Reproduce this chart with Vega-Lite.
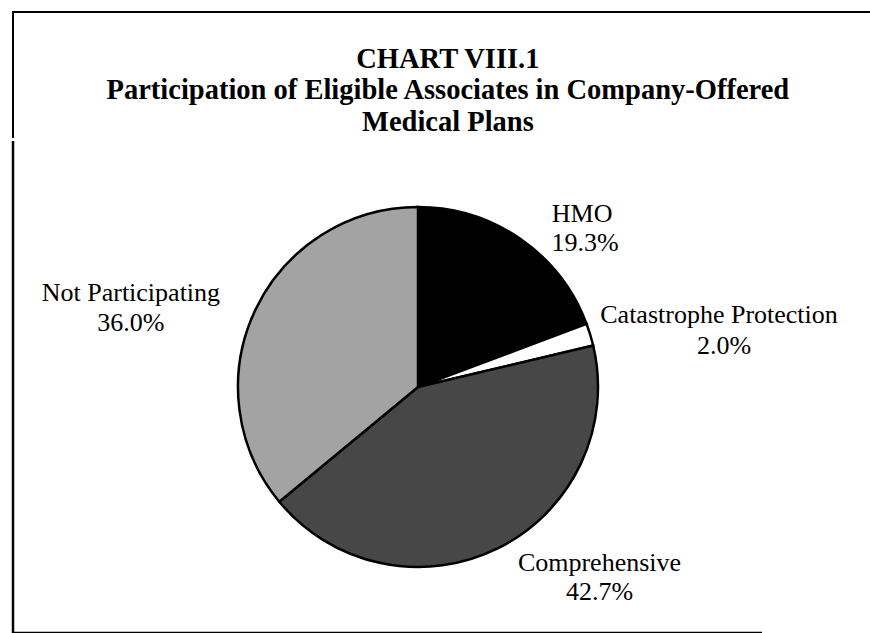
{
  "$schema": "https://vega.github.io/schema/vega-lite/v6.json",
  "padding": {"left": 11, "top": 11, "right": 0, "bottom": 0},
  "spacing": 0,
  "background": "white",
  "config": {"view": {"stroke": null}, "font": "Liberation Serif"},
  "title": {
    "text": ["CHART VIII.1", "Participation of Eligible Associates in Company-Offered", "Medical Plans"],
    "orient": "top",
    "anchor": "middle",
    "frame": "bounds",
    "offset": -125,
    "fontSize": 28.5,
    "fontWeight": "bold",
    "font": "Liberation Serif",
    "lineHeight": 31.5,
    "color": "black",
    "dx": 6
  },
  "datasets": {
    "plans": [
      {"cat": "HMO", "share": 0.193, "rank": 1},
      {"cat": "Catastrophe Protection", "share": 0.02, "rank": 2},
      {"cat": "Comprehensive", "share": 0.427, "rank": 3},
      {"cat": "Not Participating", "share": 0.36, "rank": 4}
    ]
  },
  "vconcat": [
    {
      "width": 858,
      "height": 126,
      "view": {"stroke": "black", "strokeWidth": 2, "strokeDash": [858, 984, 140, 0]},
      "data": {"values": []},
      "mark": "rule",
      "encoding": {}
    },
    {
      "width": 810,
      "height": 492,
      "view": {"stroke": "black", "strokeWidth": 2.5, "strokeDash": [0, 1363, 1300, 0]},
      "data": {"name": "plans"},
      "encoding": {
        "theta": {"field": "share", "type": "quantitative", "stack": true},
        "order": {"field": "rank", "type": "quantitative"}
      },
      "layer": [
        {
          "mark": {"type": "arc", "outerRadius": 180, "stroke": "black", "strokeWidth": 2.5},
          "encoding": {
            "color": {
              "field": "cat",
              "type": "nominal",
              "scale": {
                "domain": ["HMO", "Catastrophe Protection", "Comprehensive", "Not Participating"],
                "range": ["#000000", "#ffffff", "#474747", "#a3a3a3"]
              },
              "legend": null
            }
          }
        },
        {
          "mark": {
            "type": "text",
            "radius": 230,
            "align": "center",
            "baseline": "alphabetic",
            "fontSize": 26,
            "font": "Liberation Serif",
            "color": "black",
            "dx": {"expr": "datum.cat === 'HMO' ? 33 : datum.cat === 'Catastrophe Protection' ? 81 : datum.cat === 'Comprehensive' ? 79 : -79"},
            "dy": {"expr": "datum.cat === 'HMO' ? 24 : datum.cat === 'Catastrophe Protection' ? 3 : datum.cat === 'Comprehensive' ? -22 : 12"}
          },
          "encoding": {"text": {"field": "cat", "type": "nominal"}}
        },
        {
          "mark": {
            "type": "text",
            "radius": 230,
            "align": "center",
            "baseline": "alphabetic",
            "fontSize": 26,
            "font": "Liberation Serif",
            "color": "black",
            "dx": {"expr": "datum.cat === 'HMO' ? 36 : datum.cat === 'Catastrophe Protection' ? 86 : datum.cat === 'Comprehensive' ? 79 : -79"},
            "dy": {"expr": "datum.cat === 'HMO' ? 53 : datum.cat === 'Catastrophe Protection' ? 34 : datum.cat === 'Comprehensive' ? 7 : 42"}
          },
          "encoding": {"text": {"field": "share", "type": "quantitative", "format": ".1%"}}
        }
      ]
    }
  ]
}
